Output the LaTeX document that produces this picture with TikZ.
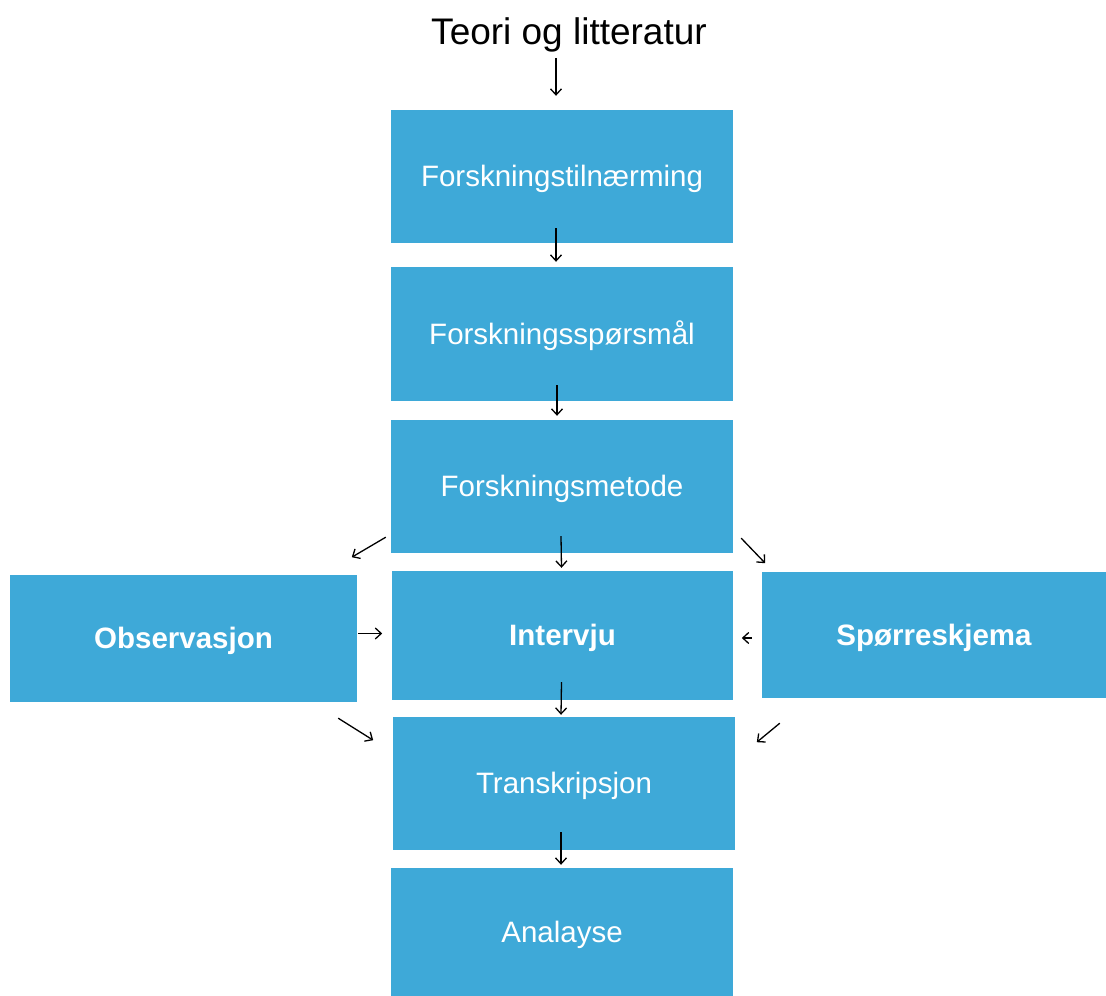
\documentclass[tikz,border=0pt]{standalone}
\usepackage{fontspec}
\setmainfont{Liberation Sans}
\usetikzlibrary{arrows.meta,calc}
\definecolor{boxblue}{RGB}{62,169,216}
\tikzset{
  box/.style={fill=boxblue, draw=none, inner sep=0pt, minimum width=342pt, text=white, text height=21pt, text depth=0pt, font=\fontsize{29.5}{34}\selectfont},
  boldbox/.style={box, font=\fontsize{29.5}{34}\selectfont\bfseries},
  arr/.style={line width=1.3pt, -{Straight Barb[length=6pt,width=11pt,line width=1.3pt]}}
}
\begin{document}
\begin{tikzpicture}[x=1pt,y=1pt]
\useasboundingbox (0,0) rectangle (1106,996);
\node[font=\fontsize{37}{42}\selectfont] (title) at (569,961) {Teori og litteratur};
\node[box, minimum height=133pt] (tiln) at (562,819.5) {Forskningstilnærming};
\node[box, minimum height=134pt] (spm) at (562,662) {Forskningsspørsmål};
\node[box, minimum height=133pt] (met) at (562,509.5) {Forskningsmetode};
\node[boldbox, minimum width=341pt, minimum height=129pt] (int) at (562.5,360.5) {Intervju};
\node[box, minimum height=133pt] (tra) at (564,212.5) {Transkripsjon};
\node[box, minimum height=128pt] (ana) at (562,64) {Analayse};
\node[boldbox, minimum width=347pt, minimum height=127pt] (obs) at (183.5,357.5) {Observasjon};
\node[boldbox, minimum width=344pt, minimum height=126pt] (spr) at (934,361) {Spørreskjema};
% vertical arrows
\draw[arr] ($(tiln.north)+(-6,52)$) -- ($(tiln.north)+(-6,14)$);
\draw[arr] ($(tiln.south)+(-6,15)$) -- ($(spm.north)+(-6,5)$);
\draw[arr] ($(spm.south)+(-5,16)$) -- ($(met.north)+(-5,4)$);
\draw[arr] ($(met.south)+(-1,17)$) -- ($(int.north)+(-1,3)$);
\draw[arr] ($(int.south)+(-1,18)$) -- ($(tra.north)+(-3,2)$);
\draw[arr] ($(tra.south)+(-3,18)$) -- ($(ana.north)+(-1,3)$);
% diagonal arrows
\draw[arr] ($(met.south west)+(-5,16)$) -- ($(met.south west)+(-39,-4)$);
\draw[arr] ($(met.south east)+(8,15)$) -- ($(met.south east)+(32,-10)$);
\draw[arr] ($(obs.east)+(1,5)$) -- ($(obs.east)+(25,5)$);
\draw[arr] ($(spr.west)+(-10,-3)$) -- ($(spr.west)+(-20,-3)$);
\draw[arr] ($(obs.south east)+(-19,-16)$) -- ($(obs.south east)+(16,-38)$);
\draw[arr] ($(spr.south west)+(18,-25)$) -- ($(spr.south west)+(-5,-44)$);
\end{tikzpicture}
\end{document}
